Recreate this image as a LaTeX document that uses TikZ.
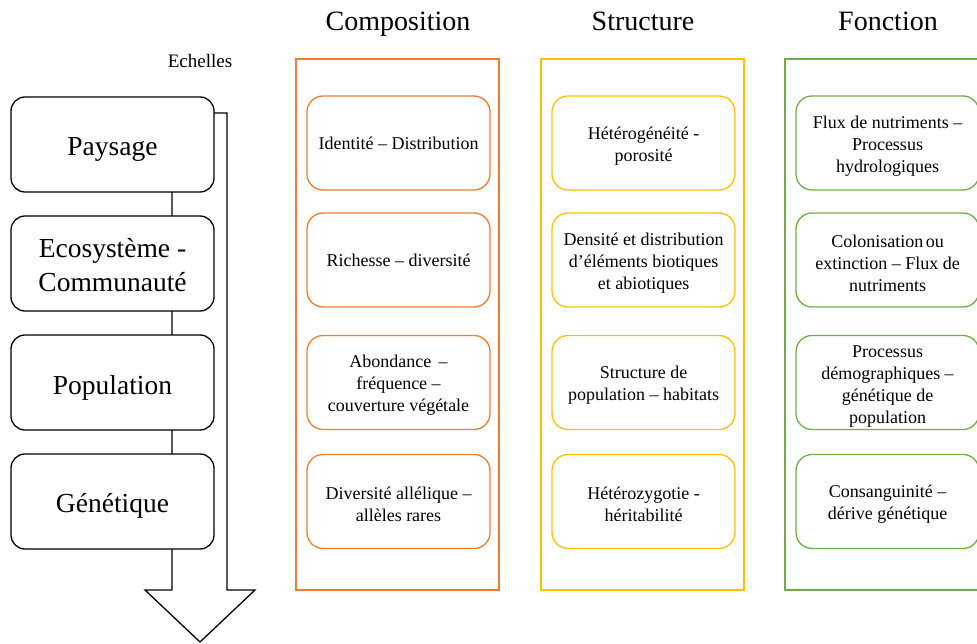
\documentclass[tikz,border=0pt]{standalone}
\usepackage{fontspec}
\setmainfont{Liberation Serif}
\definecolor{orangeC}{HTML}{ED7D31}
\definecolor{goldC}{HTML}{FFC000}
\definecolor{greenC}{HTML}{70AD47}
\begin{document}
\begin{tikzpicture}[x=1pt,y=-1pt,
  scalebox/.style={draw=black,line width=1.3pt,fill=white,rounded corners=14pt,
    minimum width=203pt,minimum height=95pt,inner sep=0pt},
  scaletext/.style={align=center,inner sep=0pt,font=\fontsize{27.5}{34}\selectfont},
  itembox/.style={draw=#1,line width=1.3pt,fill=white,rounded corners=16pt,
    minimum width=183pt,minimum height=94pt,inner sep=0pt},
  itemtext/.style={align=center,inner sep=0pt,font=\fontsize{18}{22}\selectfont},
  frame/.style={draw=#1,line width=1.3pt},
  title/.style={font=\fontsize{28}{34}\selectfont,anchor=base}]
\clip (0,0) rectangle (977,644);
\useasboundingbox (0,0) rectangle (977,644);
% scale arrow
\draw[line width=1.3pt,fill=white,line join=miter]
  (172,113) -- (227,113) -- (227,590) -- (255,590) -- (200,642) -- (145,590) -- (172,590) -- cycle;
\node[font=\fontsize{19}{23}\selectfont] (ech) at (200,61) {Echelles};
% left boxes
\node[scalebox] (pay) at (112.5,144.5) {};
\node[scalebox] (eco) at (112.5,263.5) {};
\node[scalebox] (pop) at (112.5,382.5) {};
\node[scalebox] (gen) at (112.5,501.5) {};
\node[scaletext] (payt) at ([yshift=-5pt]pay.center) {Paysage};
\node[scaletext] (ecot) at ([yshift=-2pt]eco.center) {Ecosystème -\\Communauté};
\node[scaletext] (popt) at ([yshift=-5pt]pop.center) {Population};
\node[scaletext] (gent) at ([yshift=-4pt]gen.center) {Génétique};
% titles
\node[title] (tc) at (398,31) {Composition};
\node[title] (ts) at (643,31) {Structure};
\node[title] (tf) at (888,31) {Fonction};
% frames
\draw[frame=orangeC] (296,59) rectangle (499,590);
\draw[frame=goldC] (541,59) rectangle (744,590);
\draw[frame=greenC] (785,59) rectangle (988,590);
% composition
\node[itembox=orangeC] (c1) at (398.5,143) {};
\node[itembox=orangeC] (c2) at (398.5,260) {};
\node[itembox=orangeC] (c3) at (398.5,382.5) {};
\node[itembox=orangeC] (c4) at (398.5,501.5) {};
\node[itemtext] (c1t) at (c1.center) {Identité – Distribution};
\node[itemtext] (c2t) at (c2.center) {Richesse – diversité};
\node[itemtext] (c3t) at ([yshift=-3pt]c3.center) {Abondance\hspace{3pt} –\\fréquence –\\couverture végétale};
\node[itemtext] (c4t) at ([yshift=-3pt]c4.center) {Diversité allélique –\\allèles rares};
% structure
\node[itembox=goldC] (s1) at (643.5,143) {};
\node[itembox=goldC] (s2) at (643.5,260) {};
\node[itembox=goldC] (s3) at (643.5,382.5) {};
\node[itembox=goldC] (s4) at (643.5,501.5) {};
\node[itemtext] (s1t) at ([yshift=-3pt]s1.center) {Hétérogénéité -\\porosité};
\node[itemtext] (s2t) at ([yshift=-3pt]s2.center) {Densité et distribution\\d’éléments biotiques\\et abiotiques};
\node[itemtext] (s3t) at ([yshift=-3pt]s3.center) {Structure de\\population – habitats};
\node[itemtext] (s4t) at ([yshift=-3pt]s4.center) {Hétérozygotie -\\héritabilité};
% fonction
\node[itembox=greenC] (f1) at (887.5,143) {};
\node[itembox=greenC] (f2) at (887.5,260) {};
\node[itembox=greenC] (f3) at (887.5,382.5) {};
\node[itembox=greenC] (f4) at (887.5,501.5) {};
\node[itemtext] (f1t) at ([yshift=-3pt]f1.center) {Flux de nutriments –\\Processus\\hydrologiques};
\node[itemtext] (f2t) at ([yshift=-3pt]f2.center) {Colonisation\hspace{-2pt} ou\\extinction – Flux de\\nutriments};
\node[itemtext] (f3t) at ([yshift=-4pt]f3.center) {Processus\\démographiques –\\génétique de\\population};
\node[itemtext] (f4t) at ([yshift=-3pt]f4.center) {Consanguinité –\\dérive génétique};
\end{tikzpicture}
\end{document}
